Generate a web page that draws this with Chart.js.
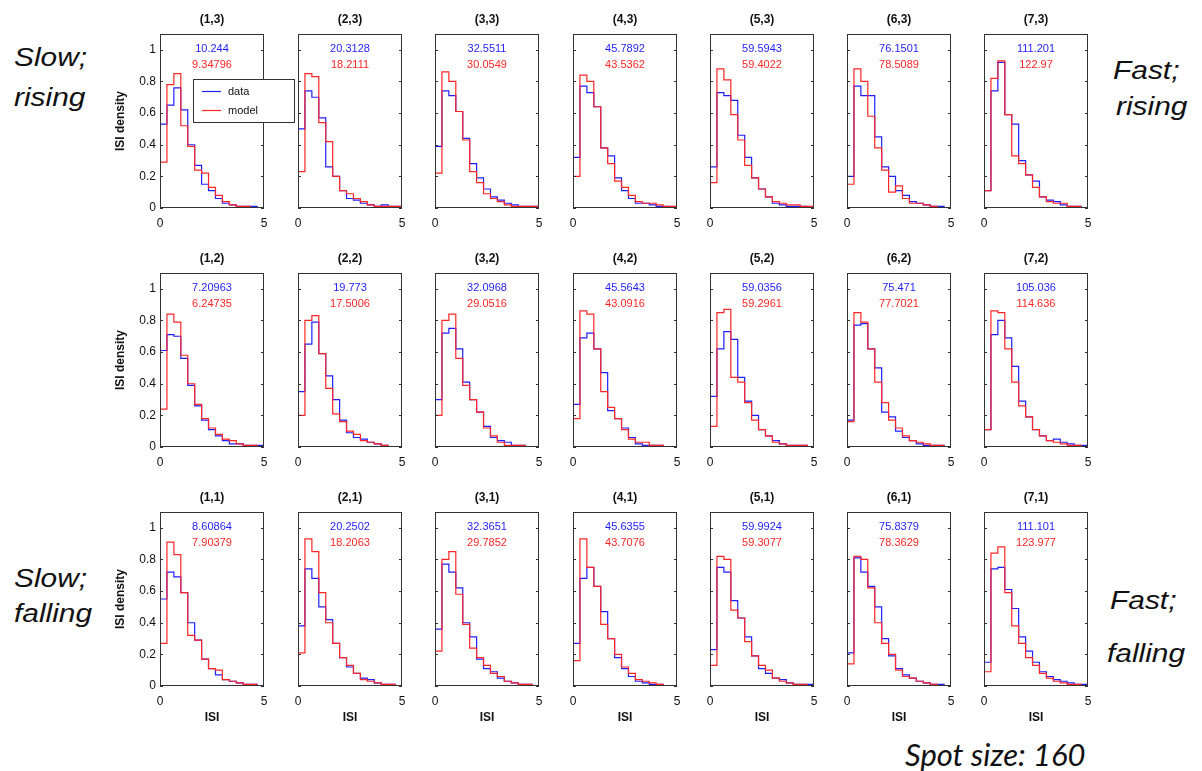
<!DOCTYPE html>
<html>
<head>
<meta charset="utf-8">
<script src="https://cdn.jsdelivr.net/npm/chart.js@4.4.1/dist/chart.umd.min.js"></script>
<style>
  body { margin: 0; background: #fff; width: 1202px; height: 771px; position: relative; overflow: hidden;
         font-family: "Liberation Sans", Arial, sans-serif; }
  canvas.panel { position: absolute; }
  .side { position: absolute; font-style: italic; font-size: 26px; line-height: 26px; color: #111;
          transform: scaleX(1.15); transform-origin: left top; white-space: nowrap; }
  .spot { position: absolute; left: 905px; top: 739px; font-family: Lato, "Open Sans", sans-serif;
          font-style: italic; font-size: 31px; line-height: 31px; color: #111; white-space: nowrap; }
</style>
</head>
<body>

<div class="side" style="left:14px;top:44px">Slow;</div>
<div class="side" style="left:14px;top:84px">rising</div>
<div class="side" style="left:1113px;top:57px">Fast;</div>
<div class="side" style="left:1116px;top:93px">rising</div>
<div class="side" style="left:14px;top:565px">Slow;</div>
<div class="side" style="left:14px;top:600px">falling</div>
<div class="side" style="left:1110px;top:587px">Fast;</div>
<div class="side" style="left:1107px;top:640px">falling</div>
<div class="spot">Spot size: 160</div>

<script>
// ---- data (ISI densities per bin, bins of 1/3 from 0 to 5) ----
const xTicks = [0, 5];
const yTicks = [0, 0.2, 0.4, 0.6, 0.8, 1];
const yTickLabels = ['0', '0.2', '0.4', '0.6', '0.8', '1'];
const colLabels = [1, 2, 3, 4, 5, 6, 7];
const rowLabels = [3, 2, 1];

// top row (j = 3)
const data3 = [
  [0.53, 0.65, 0.76, 0.62, 0.40, 0.27, 0.15, 0.11, 0.06, 0.03, 0.02, 0.01, 0.01, 0.01, 0.00],
  [0.50, 0.74, 0.70, 0.57, 0.26, 0.20, 0.11, 0.06, 0.05, 0.03, 0.02, 0.01, 0.02, 0.01, 0.01],
  [0.39, 0.74, 0.71, 0.61, 0.44, 0.28, 0.19, 0.12, 0.07, 0.05, 0.03, 0.02, 0.01, 0.01, 0.01],
  [0.32, 0.77, 0.73, 0.64, 0.38, 0.33, 0.19, 0.11, 0.06, 0.03, 0.03, 0.02, 0.01, 0.01, 0.00],
  [0.26, 0.73, 0.71, 0.68, 0.46, 0.32, 0.19, 0.12, 0.07, 0.03, 0.02, 0.01, 0.01, 0.01, 0.00],
  [0.20, 0.77, 0.71, 0.71, 0.45, 0.26, 0.20, 0.11, 0.08, 0.04, 0.03, 0.02, 0.01, 0.01, 0.00],
  [0.11, 0.74, 0.92, 0.59, 0.53, 0.30, 0.21, 0.17, 0.07, 0.05, 0.04, 0.02, 0.01, 0.01, 0.00]
];
const model3 = [
  [0.29, 0.78, 0.85, 0.52, 0.39, 0.24, 0.22, 0.13, 0.08, 0.04, 0.02, 0.01, 0.01, 0.00, 0.00],
  [0.23, 0.85, 0.83, 0.54, 0.42, 0.20, 0.11, 0.09, 0.06, 0.04, 0.02, 0.01, 0.01, 0.01, 0.01],
  [0.22, 0.86, 0.80, 0.61, 0.43, 0.23, 0.16, 0.09, 0.06, 0.04, 0.02, 0.01, 0.01, 0.01, 0.01],
  [0.20, 0.84, 0.80, 0.64, 0.38, 0.28, 0.17, 0.13, 0.08, 0.04, 0.03, 0.03, 0.02, 0.01, 0.01],
  [0.16, 0.88, 0.81, 0.59, 0.43, 0.27, 0.19, 0.12, 0.07, 0.04, 0.03, 0.02, 0.02, 0.01, 0.01],
  [0.15, 0.88, 0.80, 0.58, 0.38, 0.24, 0.10, 0.14, 0.06, 0.03, 0.03, 0.02, 0.01, 0.00, 0.00],
  [0.11, 0.82, 0.93, 0.59, 0.33, 0.28, 0.21, 0.13, 0.07, 0.04, 0.03, 0.03, 0.01, 0.01, 0.00]
];

// middle row (j = 2)
const data2 = [
  [0.61, 0.71, 0.70, 0.56, 0.39, 0.26, 0.17, 0.11, 0.07, 0.04, 0.02, 0.02, 0.01, 0.01, 0.01],
  [0.35, 0.65, 0.79, 0.59, 0.45, 0.30, 0.17, 0.09, 0.06, 0.05, 0.03, 0.02, 0.01, 0.00, 0.00],
  [0.30, 0.72, 0.75, 0.62, 0.41, 0.30, 0.22, 0.13, 0.06, 0.04, 0.03, 0.01, 0.01, 0.00, 0.00],
  [0.27, 0.69, 0.72, 0.62, 0.47, 0.23, 0.18, 0.12, 0.06, 0.02, 0.01, 0.01, 0.01, 0.00, 0.00],
  [0.32, 0.62, 0.73, 0.68, 0.44, 0.29, 0.20, 0.11, 0.07, 0.04, 0.02, 0.01, 0.01, 0.01, 0.00],
  [0.17, 0.77, 0.78, 0.62, 0.50, 0.22, 0.19, 0.10, 0.06, 0.04, 0.02, 0.01, 0.01, 0.01, 0.00],
  [0.11, 0.71, 0.80, 0.69, 0.51, 0.29, 0.19, 0.11, 0.07, 0.04, 0.05, 0.03, 0.02, 0.01, 0.01]
];
const model2 = [
  [0.24, 0.84, 0.79, 0.58, 0.40, 0.27, 0.18, 0.12, 0.08, 0.05, 0.04, 0.02, 0.01, 0.01, 0.00],
  [0.20, 0.80, 0.83, 0.59, 0.37, 0.21, 0.16, 0.10, 0.08, 0.04, 0.03, 0.02, 0.01, 0.00, 0.00],
  [0.20, 0.80, 0.84, 0.56, 0.39, 0.30, 0.22, 0.12, 0.07, 0.03, 0.01, 0.01, 0.01, 0.00, 0.00],
  [0.18, 0.86, 0.84, 0.62, 0.35, 0.25, 0.18, 0.11, 0.05, 0.03, 0.03, 0.01, 0.01, 0.00, 0.00],
  [0.13, 0.85, 0.87, 0.44, 0.41, 0.28, 0.17, 0.11, 0.07, 0.03, 0.02, 0.01, 0.01, 0.01, 0.00],
  [0.16, 0.85, 0.79, 0.62, 0.41, 0.28, 0.17, 0.12, 0.07, 0.04, 0.03, 0.02, 0.01, 0.01, 0.00],
  [0.11, 0.86, 0.85, 0.62, 0.41, 0.26, 0.19, 0.11, 0.07, 0.04, 0.03, 0.02, 0.01, 0.01, 0.00]
];

// bottom row (j = 1)
const data1 = [
  [0.55, 0.72, 0.69, 0.59, 0.40, 0.29, 0.17, 0.11, 0.07, 0.04, 0.03, 0.02, 0.01, 0.01, 0.00],
  [0.38, 0.74, 0.68, 0.50, 0.42, 0.27, 0.18, 0.12, 0.08, 0.05, 0.04, 0.02, 0.01, 0.01, 0.00],
  [0.36, 0.77, 0.72, 0.62, 0.40, 0.31, 0.17, 0.11, 0.09, 0.05, 0.03, 0.02, 0.01, 0.01, 0.00],
  [0.27, 0.68, 0.75, 0.63, 0.47, 0.30, 0.18, 0.11, 0.06, 0.03, 0.02, 0.01, 0.01, 0.00, 0.00],
  [0.23, 0.75, 0.72, 0.54, 0.43, 0.31, 0.19, 0.11, 0.08, 0.05, 0.04, 0.02, 0.01, 0.01, 0.01],
  [0.21, 0.81, 0.72, 0.63, 0.50, 0.30, 0.19, 0.11, 0.07, 0.05, 0.03, 0.02, 0.01, 0.01, 0.00],
  [0.15, 0.74, 0.75, 0.61, 0.49, 0.31, 0.22, 0.15, 0.09, 0.06, 0.04, 0.03, 0.02, 0.01, 0.01]
];
const model1 = [
  [0.27, 0.91, 0.83, 0.59, 0.32, 0.29, 0.17, 0.11, 0.10, 0.04, 0.03, 0.02, 0.01, 0.01, 0.00],
  [0.21, 0.93, 0.85, 0.59, 0.40, 0.27, 0.18, 0.13, 0.08, 0.04, 0.03, 0.02, 0.01, 0.01, 0.00],
  [0.22, 0.80, 0.85, 0.58, 0.39, 0.24, 0.18, 0.13, 0.08, 0.06, 0.03, 0.02, 0.01, 0.01, 0.00],
  [0.16, 0.93, 0.75, 0.63, 0.39, 0.30, 0.20, 0.12, 0.08, 0.04, 0.03, 0.02, 0.01, 0.00, 0.00],
  [0.13, 0.82, 0.80, 0.48, 0.43, 0.28, 0.19, 0.13, 0.10, 0.05, 0.03, 0.02, 0.01, 0.01, 0.00],
  [0.14, 0.82, 0.80, 0.62, 0.40, 0.27, 0.20, 0.10, 0.06, 0.05, 0.03, 0.02, 0.01, 0.00, 0.00],
  [0.09, 0.84, 0.88, 0.59, 0.38, 0.27, 0.18, 0.13, 0.08, 0.05, 0.03, 0.02, 0.01, 0.01, 0.00]
];

// mean rates printed in each panel
const dataMean3  = ['10.244', '20.3128', '32.5511', '45.7892', '59.5943', '76.1501', '111.201'];
const modelMean3 = ['9.34796', '18.2111', '30.0549', '43.5362', '59.4022', '78.5089', '122.97'];
const dataMean2  = ['7.20963', '19.773', '32.0968', '45.5643', '59.0356', '75.471', '105.036'];
const modelMean2 = ['6.24735', '17.5006', '29.0516', '43.0916', '59.2961', '77.7021', '114.636'];
const dataMean1  = ['8.60864', '20.2502', '32.3651', '45.6355', '59.9924', '75.8379', '111.101'];
const modelMean1 = ['7.90379', '18.2063', '29.7852', '43.7076', '59.3077', '78.3629', '123.977'];

// ---- layout ----
const FONT = '"Liberation Sans", Arial, sans-serif';
const BLUE = '#1f1fff';
const RED = '#ff2626';
const BOX_LEFT = [160, 298, 435, 573, 710, 847, 984];
const BOX_TOP = [34, 273, 512];
const BOX_W = 104, BOX_H = 174;
const PAD_L = 50, PAD_R = 35, PAD_T = 30, PAD_B = 40;

const rows = [
  { data: data3, model: model3, dm: dataMean3, mm: modelMean3 },
  { data: data2, model: model2, dm: dataMean2, mm: modelMean2 },
  { data: data1, model: model1, dm: dataMean1, mm: modelMean1 }
];

const binWidth = 5 / 15;
const toSteps = (vals) => {
  const pts = vals.map((v, i) => ({ x: i * binWidth, y: v }));
  pts.push({ x: 5, y: vals[vals.length - 1] });
  return pts;
};

// title, box, inward ticks, mean numbers and the legend
const panelDecor = {
  id: 'panelDecor',
  afterDatasetsDraw(chart, args, opts) {
    const { ctx, chartArea: a, scales: { y } } = chart;
    const cx = a.left + a.width / 2;
    ctx.save();
    ctx.strokeStyle = '#333';
    ctx.lineWidth = 1;
    ctx.strokeRect(a.left + 0.5, a.top + 0.5, a.width - 1, a.height - 1);
    ctx.beginPath();
    yTicks.forEach(v => {
      const py = Math.round(y.getPixelForValue(v)) + 0.5;
      ctx.moveTo(a.left, py); ctx.lineTo(a.left + 3, py);
      ctx.moveTo(a.right - 3, py); ctx.lineTo(a.right, py);
    });
    ctx.stroke();

    ctx.textAlign = 'center';
    ctx.textBaseline = 'middle';
    ctx.font = 'bold 12px ' + FONT;
    ctx.fillStyle = '#111';
    ctx.fillText(opts.title, cx, a.top - 14);

    ctx.font = '11px ' + FONT;
    ctx.fillStyle = BLUE;
    ctx.fillText(opts.dataMean, cx, a.top + 15);
    ctx.fillStyle = RED;
    ctx.fillText(opts.modelMean, cx, a.top + 31);

    if (opts.legend) {
      const lx = a.left + 33, ly = a.top + 45;
      ctx.fillStyle = '#fff';
      ctx.fillRect(lx, ly, 101, 43);
      ctx.strokeStyle = '#333';
      ctx.strokeRect(lx + 0.5, ly + 0.5, 101, 43);
      ctx.textAlign = 'left';
      ctx.fillStyle = '#111';
      [['data', BLUE, 12], ['model', RED, 31]].forEach(([txt, col, dy]) => {
        ctx.strokeStyle = col;
        ctx.lineWidth = 1.2;
        ctx.beginPath();
        ctx.moveTo(lx + 9, ly + dy + 0.5);
        ctx.lineTo(lx + 28, ly + dy + 0.5);
        ctx.stroke();
        ctx.fillText(txt, lx + 35, ly + dy + 1);
      });
    }
    ctx.restore();
  }
};

rows.forEach((row, r) => {
  colLabels.forEach((ci, c) => {
    const cv = document.createElement('canvas');
    cv.className = 'panel';
    cv.width = PAD_L + BOX_W + PAD_R;
    cv.height = PAD_T + BOX_H + PAD_B;
    cv.style.left = (BOX_LEFT[c] - PAD_L) + 'px';
    cv.style.top = (BOX_TOP[r] - PAD_T) + 'px';
    document.body.appendChild(cv);

    new Chart(cv.getContext('2d'), {
      type: 'line',
      data: {
        datasets: [
          { label: 'data', data: toSteps(row.data[c]), stepped: true, borderColor: BLUE,
            borderWidth: 1.2, pointRadius: 0, fill: false, order: 2 },
          { label: 'model', data: toSteps(row.model[c]), stepped: true, borderColor: RED,
            borderWidth: 1.2, pointRadius: 0, fill: false, order: 1 }
        ]
      },
      options: {
        responsive: false,
        animation: false,
        devicePixelRatio: 1,
        layout: { padding: { left: 0, right: PAD_R, top: PAD_T, bottom: 0 } },
        plugins: {
          legend: { display: false },
          tooltip: { enabled: false },
          title: { display: false },
          panelDecor: {
            title: `(${ci},${rowLabels[r]})`,
            dataMean: row.dm[c],
            modelMean: row.mm[c],
            legend: r === 0 && c === 0
          }
        },
        scales: {
          x: {
            type: 'linear', min: 0, max: 5,
            grid: { display: false, drawTicks: false },
            border: { display: false },
            afterBuildTicks: s => { s.ticks = xTicks.map(v => ({ value: v })); },
            afterFit: s => { s.height = PAD_B; },
            ticks: { color: '#111', font: { family: FONT, size: 12 }, padding: 8,
                     maxRotation: 0, autoSkip: false },
            title: { display: r === 2, text: 'ISI', color: '#111',
                     font: { family: FONT, size: 12, weight: 'bold', lineHeight: 1.1 },
                     padding: { top: 0, bottom: 2 } }
          },
          y: {
            min: 0, max: 1.1,
            grid: { display: false, drawTicks: false },
            border: { display: false },
            afterBuildTicks: s => { s.ticks = yTicks.map(v => ({ value: v })); },
            afterFit: s => { s.width = PAD_L; },
            ticks: { display: c === 0, color: '#111', font: { family: FONT, size: 12 }, padding: 4,
                     callback: v => yTickLabels[yTicks.indexOf(v)] },
            title: { display: c === 0, text: 'ISI density', color: '#111',
                     font: { family: FONT, size: 12, weight: 'bold', lineHeight: 1.1 },
                     padding: { top: 4, bottom: 0 } }
          }
        }
      },
      plugins: [panelDecor]
    });
  });
});
</script>
</body>
</html>
